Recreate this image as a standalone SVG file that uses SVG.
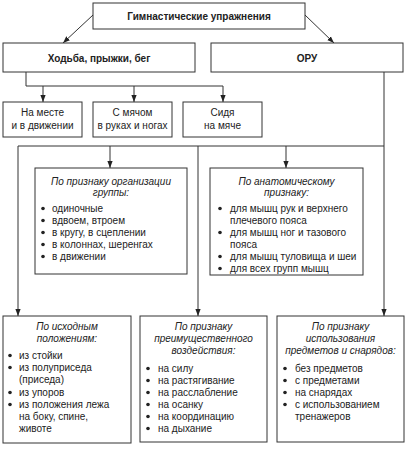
<svg xmlns="http://www.w3.org/2000/svg" width="408" height="450" viewBox="0 0 408 450">
<style>
.box{fill:#fff;stroke:#333;stroke-width:1}
.ln{fill:none;stroke:#333;stroke-width:1}
text{font-family:"Liberation Sans",Arial,sans-serif;font-size:10px;fill:#222}
.b{font-weight:bold}
.c{text-anchor:middle}
.i{font-style:italic}
.dot{fill:#222}
</style>
<defs>
<marker id="ah" viewBox="0 0 8 8" refX="8" refY="4" markerWidth="7" markerHeight="7" markerUnits="userSpaceOnUse" orient="auto">
<path d="M0,1 L8,4 L0,7 Z" fill="#222"/>
</marker>
</defs>
<rect width="408" height="450" fill="#fff"/>
<g id="connectors">
<line class="ln" x1="93" y1="15" x2="63" y2="43" marker-end="url(#ah)"/>
<line class="ln" x1="305" y1="15" x2="334" y2="43" marker-end="url(#ah)"/>
<polyline class="ln" points="26,72 26,86 223,86"/>
<line class="ln" x1="43" y1="86" x2="43" y2="102" marker-end="url(#ah)"/>
<line class="ln" x1="134" y1="86" x2="134" y2="102" marker-end="url(#ah)"/>
<line class="ln" x1="223" y1="86" x2="223" y2="102" marker-end="url(#ah)"/>
<line class="ln" x1="384" y1="72" x2="384" y2="316" marker-end="url(#ah)"/>
<line class="ln" x1="18" y1="146" x2="384" y2="146"/>
<line class="ln" x1="18" y1="146" x2="18" y2="316" marker-end="url(#ah)"/>
<line class="ln" x1="110" y1="146" x2="110" y2="168" marker-end="url(#ah)"/>
<line class="ln" x1="286" y1="146" x2="286" y2="168" marker-end="url(#ah)"/>
<line class="ln" x1="198" y1="146" x2="198" y2="316" marker-end="url(#ah)"/>
</g>
<g id="n-top">
<rect class="box" x="93" y="3" width="212" height="26"/>
<text class="b c" x="199" y="20">Гимнастические упражнения</text>
</g>
<g id="n-walk">
<rect class="box" x="3" y="43" width="192" height="29"/>
<text class="b c" x="99" y="62">Ходьба, прыжки, бег</text>
</g>
<g id="n-oru">
<rect class="box" x="211" y="43" width="192" height="29"/>
<text class="b c" x="307" y="62">ОРУ</text>
</g>
<g id="n-place">
<rect class="box" x="3" y="102" width="79" height="35"/>
<text class="c" x="42.5" y="116">На месте</text>
<text class="c" x="42.5" y="129">и в движении</text>
</g>
<g id="n-ball">
<rect class="box" x="93" y="102" width="79" height="35"/>
<text class="c" x="132.5" y="116">С мячом</text>
<text class="c" x="132.5" y="129">в руках и ногах</text>
</g>
<g id="n-sit">
<rect class="box" x="183" y="102" width="79" height="35"/>
<text class="c" x="222.5" y="116">Сидя</text>
<text class="c" x="222.5" y="129">на мяче</text>
</g>
<g id="n-group">
<rect class="box" x="35" y="168" width="152" height="106"/>
<text class="i c" x="111" y="185">По признаку организации</text>
<text class="i c" x="111" y="196">группы:</text>
<circle class="dot" cx="43" cy="208.5" r="1.8"/><text x="52" y="212">одиночные</text>
<circle class="dot" cx="43" cy="220.5" r="1.8"/><text x="52" y="224">вдвоем, втроем</text>
<circle class="dot" cx="43" cy="232.5" r="1.8"/><text x="52" y="236">в кругу, в сцеплении</text>
<circle class="dot" cx="43" cy="244.5" r="1.8"/><text x="52" y="248">в колоннах, шеренгах</text>
<circle class="dot" cx="43" cy="256.5" r="1.8"/><text x="52" y="260">в движении</text>
</g>
<g id="n-anat">
<rect class="box" x="210" y="168" width="153" height="107"/>
<text class="i c" x="286.5" y="185">По анатомическому</text>
<text class="i c" x="286.5" y="196">признаку:</text>
<circle class="dot" cx="220" cy="208.5" r="1.8"/><text x="230" y="212">для мышц рук и верхнего</text>
<text x="230" y="224">плечевого пояса</text>
<circle class="dot" cx="220" cy="232.5" r="1.8"/><text x="230" y="236">для мышц ног и тазового</text>
<text x="230" y="248">пояса</text>
<circle class="dot" cx="220" cy="256.5" r="1.8"/><text x="230" y="260">для мышц туловища и шеи</text>
<circle class="dot" cx="220" cy="268.5" r="1.8"/><text x="230" y="272">для всех групп мышц</text>
</g>
<g id="n-pos">
<rect class="box" x="3" y="316" width="128" height="127"/>
<text class="i c" x="67" y="330">По исходным</text>
<text class="i c" x="67" y="342">положениям:</text>
<circle class="dot" cx="10" cy="355.5" r="1.8"/><text x="19" y="359">из стойки</text>
<circle class="dot" cx="10" cy="367.5" r="1.8"/><text x="19" y="371">из полуприседа</text>
<text x="19" y="383">(приседа)</text>
<circle class="dot" cx="10" cy="392.5" r="1.8"/><text x="19" y="396">из упоров</text>
<circle class="dot" cx="10" cy="404.5" r="1.8"/><text x="19" y="408">из положения лежа</text>
<text x="19" y="420">на боку, спине,</text>
<text x="19" y="432">животе</text>
</g>
<g id="n-effect">
<rect class="box" x="140" y="316" width="127" height="126"/>
<text class="i c" x="203.5" y="330">По признаку</text>
<text class="i c" x="203.5" y="342">преимущественного</text>
<text class="i c" x="203.5" y="354">воздействия:</text>
<circle class="dot" cx="148" cy="368.5" r="1.8"/><text x="158" y="372">на силу</text>
<circle class="dot" cx="148" cy="380.5" r="1.8"/><text x="158" y="384">на растягивание</text>
<circle class="dot" cx="148" cy="392.5" r="1.8"/><text x="158" y="396">на расслабление</text>
<circle class="dot" cx="148" cy="404.5" r="1.8"/><text x="158" y="408">на осанку</text>
<circle class="dot" cx="148" cy="416.5" r="1.8"/><text x="158" y="420">на координацию</text>
<circle class="dot" cx="148" cy="428.5" r="1.8"/><text x="158" y="432">на дыхание</text>
</g>
<g id="n-items">
<rect class="box" x="277" y="316" width="127" height="126"/>
<text class="i c" x="340.5" y="330">По признаку</text>
<text class="i c" x="340.5" y="342">использования</text>
<text class="i c" x="340.5" y="354">предметов и снарядов:</text>
<circle class="dot" cx="285" cy="368.5" r="1.8"/><text x="295" y="372">без предметов</text>
<circle class="dot" cx="285" cy="380.5" r="1.8"/><text x="295" y="384">с предметами</text>
<circle class="dot" cx="285" cy="392.5" r="1.8"/><text x="295" y="396">на снарядах</text>
<circle class="dot" cx="285" cy="404.5" r="1.8"/><text x="295" y="408">с использованием</text>
<text x="295" y="420">тренажеров</text>
</g>
</svg>
